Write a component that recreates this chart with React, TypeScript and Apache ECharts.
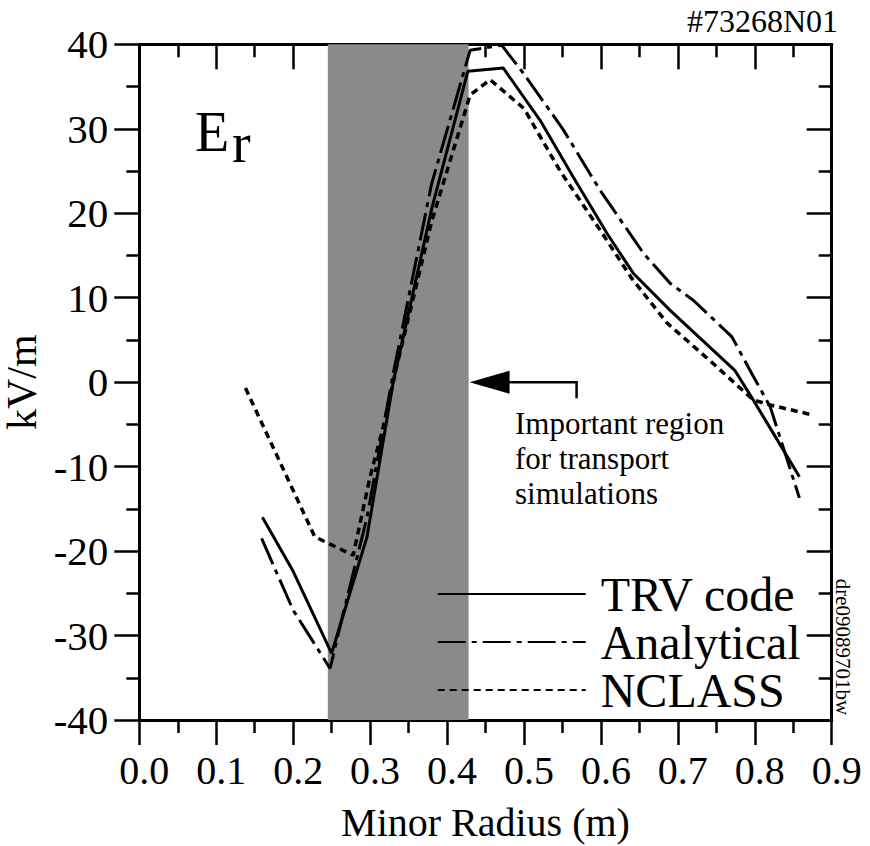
import React, { useEffect, useRef } from "react";
import * as echarts from "echarts";

// ---- data ----
const xMin = 0;
const xMax = 0.9;
const yMin = -40;
const yMax = 40;

const trvX = [0.16, 0.2, 0.25, 0.296, 0.33, 0.38, 0.427, 0.473, 0.521, 0.564, 0.608, 0.642, 0.69, 0.774, 0.798, 0.858];
const trvY = [-16.0, -22.4, -32.1, -18.3, 0.0, 20.5, 36.8, 37.2, 31.0, 24.3, 17.6, 12.9, 8.5, 1.4, -2.1, -11.2];

const anaX = [0.159, 0.2, 0.248, 0.265, 0.296, 0.33, 0.38, 0.43, 0.471, 0.499, 0.551, 0.599, 0.655, 0.69, 0.72, 0.77, 0.798, 0.82, 0.858];
const anaY = [-18.5, -27.0, -33.9, -27.4, -16.0, 1.0, 23.5, 39.3, 39.9, 36.6, 29.9, 22.7, 15.3, 11.7, 9.7, 5.4, 0.7, -2.9, -13.7];

const ncX = [0.138, 0.228, 0.278, 0.3, 0.317, 0.335, 0.38, 0.43, 0.456, 0.5, 0.547, 0.599, 0.64, 0.686, 0.746, 0.798, 0.82, 0.876];
const ncY = [-0.7, -18.3, -20.5, -11.2, -5.3, 2.0, 19.0, 34.0, 35.8, 32.4, 25.0, 18.0, 12.3, 7.0, 2.2, -2.1, -2.7, -3.9];

const shadeFrom = 0.245;
const shadeTo = 0.428;

const seriesNames = ["TRV code", "Analytical", "NCLASS"];
const xAxisTitle = "Minor Radius (m)";
const yAxisTitle = "kV/m";

const FONT_CSS = '"Liberation Serif", "Times New Roman", Times, serif';
const font = (px: number) => `${px}px ${FONT_CSS}`;

const pairs = (xs: number[], ys: number[]) => xs.map((x, i) => [x, ys[i]]);

const lineStyles: any[] = [
  { color: "#000", width: 3, type: "solid" },
  { color: "#000", width: 3, type: [28, 6, 5, 6] },
  { color: "#000", width: 3.5, type: [7, 5] },
];

export default function App() {
  const ref = useRef<HTMLDivElement | null>(null);

  useEffect(() => {
    if (!ref.current) return;
    const chart = echarts.init(ref.current, null, { renderer: "svg" });

    const axisLineStyle = { color: "#000", width: 3 };
    const tickStyle = { color: "#000", width: 2.5 };

    const baseAxis = (extra: any) => ({
      type: "value",
      axisLine: { show: true, onZero: false, lineStyle: axisLineStyle },
      minorTick: { show: true, splitNumber: 2, length: 13, lineStyle: tickStyle },
      splitLine: { show: false },
      minorSplitLine: { show: false },
      axisLabel: { show: false },
      ...extra,
    });

    const seriesData = [pairs(trvX, trvY), pairs(anaX, anaY), pairs(ncX, ncY)];

    const option: any = {
      animation: false,
      backgroundColor: "#fff",
      textStyle: { fontFamily: FONT_CSS },
      grid: {
        left: 139.3,
        right: 38.3,
        top: 44.3,
        bottom: 126,
        containLabel: false,
        outerBoundsMode: "none",
      },
      xAxis: [
        baseAxis({
          position: "bottom",
          min: xMin,
          max: xMax,
          interval: 0.1,
          axisTick: { show: true, inside: false, length: 25, lineStyle: tickStyle },
          axisLabel: {
            show: true,
            formatter: (v: number) => v.toFixed(1),
            fontSize: 40,
            fontFamily: FONT_CSS,
            color: "#000",
            margin: 30,
            padding: [0, 0, 0, 10],
          },
          name: xAxisTitle,
          nameLocation: "middle",
          nameGap: 82,
          nameTextStyle: { fontSize: 40, fontFamily: FONT_CSS, color: "#000" },
        }),
        baseAxis({
          position: "top",
          min: xMin,
          max: xMax,
          interval: 0.1,
          axisTick: { show: true, inside: true, length: 25, lineStyle: tickStyle },
        }),
      ],
      yAxis: [
        baseAxis({
          position: "left",
          min: yMin,
          max: yMax,
          interval: 10,
          axisTick: { show: true, inside: false, length: 25, lineStyle: tickStyle },
          axisLabel: {
            show: true,
            fontSize: 41,
            fontFamily: FONT_CSS,
            color: "#000",
            margin: 31,
            padding: [8, 0, 0, 0],
          },
          name: yAxisTitle,
          nameLocation: "middle",
          nameRotate: 90,
          nameGap: 83,
          nameTextStyle: { fontSize: 42, fontFamily: FONT_CSS, color: "#000" },
        }),
        baseAxis({
          position: "right",
          min: yMin,
          max: yMax,
          interval: 10,
          axisTick: { show: true, inside: true, length: 25, lineStyle: tickStyle },
        }),
      ],
      legend: {
        data: seriesNames,
        orient: "vertical",
        left: 436.7,
        top: 570,
        padding: 0,
        itemGap: 0,
        itemWidth: 148,
        itemHeight: 14,
        selectedMode: false,
        itemStyle: { opacity: 0, color: "transparent", borderWidth: 0 },
        textStyle: {
          fontSize: 48,
          fontFamily: FONT_CSS,
          color: "#000",
          lineHeight: 41,
          padding: [0, 0, 0, 10],
        },
      },
      series: [
        {
          name: "shade",
          type: "line",
          data: [],
          silent: true,
          z: 1,
          markArea: {
            silent: true,
            itemStyle: { color: "#8a8a8a", opacity: 1 },
            data: [[{ xAxis: shadeFrom }, { xAxis: shadeTo }]],
          },
        },
        ...seriesNames.map((name, i) => ({
          name,
          type: "line",
          data: seriesData[i],
          showSymbol: false,
          symbol: "none",
          z: 5,
          lineStyle: lineStyles[i],
          itemStyle: { color: "#000" },
        })),
      ],
    };

    chart.setOption(option);

    // annotations placed through the chart's own axes
    const px = (v: number) => chart.convertToPixel({ xAxisIndex: 0 }, v) as number;
    const py = (v: number) => chart.convertToPixel({ yAxisIndex: 0 }, v) as number;
    const ax = px(shadeTo) + 1;
    const ay = py(0);

    const graphics: any[] = [
      {
        type: "text",
        x: 838,
        y: 21,
        style: { text: "#73268N01", font: font(32), fill: "#000", align: "right", verticalAlign: "middle" },
      },
      {
        type: "text",
        x: 195,
        y: 132,
        style: { text: "E", font: font(56), fill: "#000", align: "left", verticalAlign: "middle" },
      },
      {
        type: "text",
        x: 232,
        y: 142.6,
        style: { text: "r", font: font(56), fill: "#000", align: "left", verticalAlign: "middle" },
      },
      {
        type: "polygon",
        shape: { points: [[ax, ay], [ax + 40, ay - 11.5], [ax + 40, ay + 11.5]] },
        style: { fill: "#000" },
        z: 10,
      },
      {
        type: "polyline",
        shape: { points: [[ax + 35, ay], [ax + 107, ay], [ax + 107, ay + 16]] },
        style: { stroke: "#000", lineWidth: 2.5, fill: null },
        z: 10,
      },
      {
        type: "text",
        x: 515,
        y: 406,
        style: {
          text: "Important region\nfor transport\nsimulations",
          font: font(31),
          lineHeight: 35,
          fill: "#000",
          align: "left",
          verticalAlign: "top",
        },
      },
      {
        type: "text",
        x: 843,
        y: 647,
        rotation: -Math.PI / 2,
        style: {
          text: "dre09089701bw",
          font: font(21),
          fill: "#000",
          align: "center",
          verticalAlign: "middle",
        },
      },
    ];

    chart.setOption({ graphic: graphics });
    return () => chart.dispose();
  }, []);

  return (
    <div
      ref={ref}
      style={{ position: "fixed", left: 0, top: 0, width: 870, height: 846, background: "#fff" }}
    />
  );
}
